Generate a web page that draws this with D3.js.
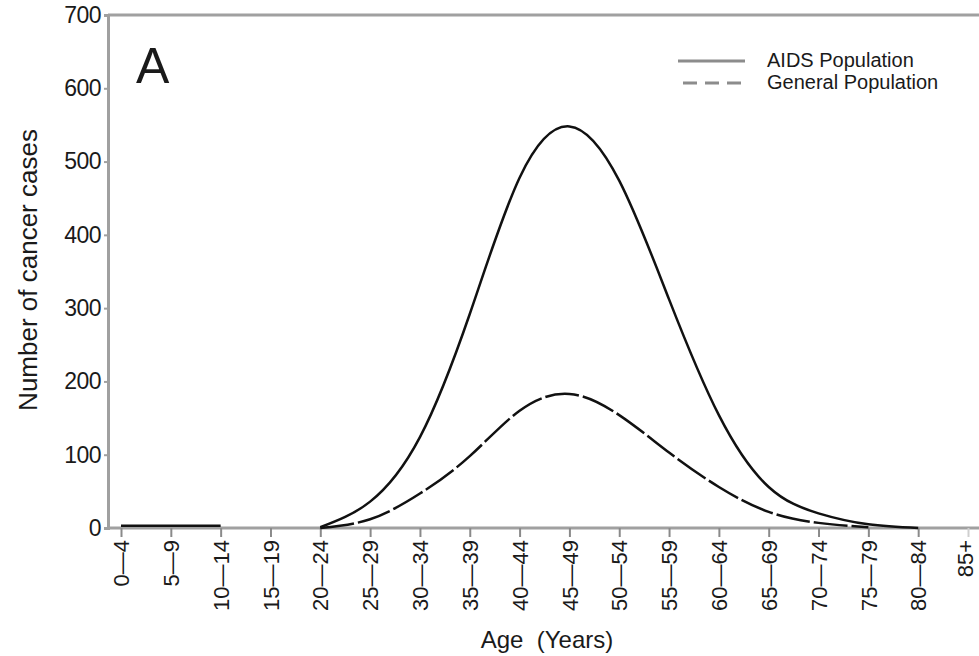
<!DOCTYPE html>
<html>
<head>
  <meta charset="utf-8">
  <title>Cancer cases by age</title>
  <script src="https://d3js.org/d3.v7.min.js"></script>
  <style>
    body { margin: 0; background: #fff; }
    text { font-family: "Liberation Sans", Arial, sans-serif; fill: #1a1a1a; }
  </style>
</head>
<body>
<div id="chart"></div>
<script>
var ageGroups = ["0\u20144","5\u20149","10\u201414","15\u201419","20\u201424","25\u201429","30\u201434","35\u201439",
  "40\u201444","45\u201449","50\u201454","55\u201459","60\u201464","65\u201469","70\u201474","75\u201479","80\u201484","85+"];
var aidsCases = [3, 3, 3, null, 1, 36, 124, 292, 478, 548, 474, 312, 154, 56, 20, 5, 0, null];
var generalCases = [null, null, null, null, 0, 12, 47, 98, 160, 183, 154, 103, 56, 22, 7, 1, null, null];
var yTicks = [0, 100, 200, 300, 400, 500, 600, 700];

var w = 979, h = 656;
var svg = d3.select("#chart").append("svg")
  .attr("width", w)
  .attr("height", h);

var x = d3.scalePoint().domain(ageGroups).range([121, 968]);
var y = d3.scaleLinear().domain([0, 700]).range([528, 15]);

// frame: top line + axes
svg.append("line")
  .attr("x1", 108).attr("x2", w).attr("y1", y(700)).attr("y2", y(700))
  .attr("stroke", "#a0a0a0").attr("stroke-width", 3);

var yAxis = svg.append("g")
  .attr("transform", "translate(108,0)")
  .call(d3.axisLeft(y).tickValues(yTicks).tickSize(4).tickPadding(3));
yAxis.select(".domain").attr("stroke", "#a0a0a0").attr("stroke-width", 3);
yAxis.selectAll(".tick line").attr("stroke", "#a0a0a0").attr("stroke-width", 2);
yAxis.selectAll(".tick text")
  .attr("font-size", 23).attr("font-family", "Liberation Sans, Arial, sans-serif")
  .attr("fill", "#1a1a1a").attr("letter-spacing", -0.5);

var xAxis = svg.append("g")
  .attr("transform", "translate(0," + y(0) + ")")
  .call(d3.axisBottom(x).tickSize(9).tickSizeOuter(0));
xAxis.select(".domain").attr("d", "M108,0H" + w).attr("stroke", "#a0a0a0").attr("stroke-width", 3);
xAxis.selectAll(".tick line").attr("stroke", "#8a8a8a").attr("stroke-width", 2);
xAxis.selectAll(".tick text")
  .attr("font-size", 22).attr("font-family", "Liberation Sans, Arial, sans-serif")
  .attr("fill", "#1a1a1a")
  .attr("text-anchor", "end")
  .attr("transform", "rotate(-90)")
  .attr("x", -12).attr("y", 0).attr("dy", "0.35em");
var last = xAxis.selectAll(".tick").filter(d => d === "85+");
last.select("line").attr("stroke", "#cfcfcf");
last.select("text").attr("dy", "0.2em");

// curves
var line = d3.line()
  .defined(d => d.v !== null)
  .x(d => x(d.g))
  .y(d => y(d.v))
  .curve(d3.curveNatural);

var aids = ageGroups.map((g, i) => ({g: g, v: aidsCases[i]}));
var general = ageGroups.map((g, i) => ({g: g, v: generalCases[i]}));

svg.append("path").datum(general)
  .attr("d", line)
  .attr("fill", "none").attr("stroke", "#111").attr("stroke-width", 2.5)
  .attr("stroke-dasharray", "34,4");
svg.append("path").datum(aids)
  .attr("d", line)
  .attr("fill", "none").attr("stroke", "#111").attr("stroke-width", 2.5);

// panel letter
svg.append("text").attr("x", 136).attr("y", 83)
  .attr("font-size", 50).text("A");

// legend
svg.append("line").attr("x1", 678).attr("x2", 745).attr("y1", 61).attr("y2", 61)
  .attr("stroke", "#8c8c8c").attr("stroke-width", 3);
svg.append("line").attr("x1", 683).attr("x2", 742).attr("y1", 83).attr("y2", 83)
  .attr("stroke", "#8c8c8c").attr("stroke-width", 3).attr("stroke-dasharray", "14,8");
svg.append("text").attr("x", 767).attr("y", 67)
  .attr("font-size", 20).attr("fill", "#333").text("AIDS Population");
svg.append("text").attr("x", 767).attr("y", 89)
  .attr("font-size", 20).attr("fill", "#333").text("General Population");

// axis titles
svg.append("text")
  .attr("transform", "translate(37,270) rotate(-90)")
  .attr("text-anchor", "middle")
  .attr("font-size", 26).text("Number of cancer cases");
svg.append("text").attr("x", 547).attr("y", 648)
  .attr("text-anchor", "middle")
  .attr("font-size", 24).text("Age  (Years)").attr("xml:space", "preserve");
</script>
</body>
</html>
